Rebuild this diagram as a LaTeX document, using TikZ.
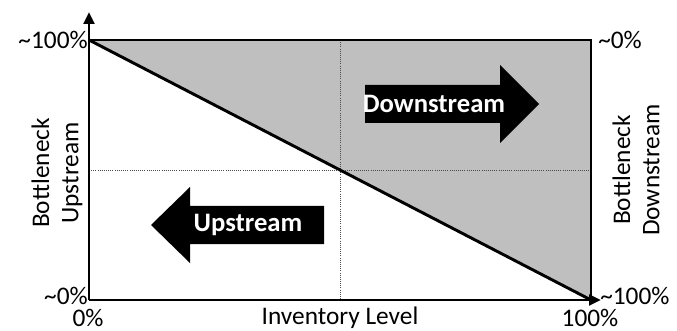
\documentclass[tikz,border=0pt]{standalone}
\usepackage{fontspec}
\setmainfont{Carlito}
\usetikzlibrary{arrows.meta}
\definecolor{bandgray}{RGB}{191,191,191}
\newcommand{\apx}{\textasciitilde}

\begin{document}
\begin{tikzpicture}[x=0.75pt,y=-0.75pt]
\tikzstyle{every node}=[font=\fontsize{19}{22}\selectfont, inner sep=0pt]
\tikzstyle{axis}=[line width=2.2pt]
\tikzstyle{guide}=[densely dotted, line width=0.6pt, black!70]
\tikzstyle{bigarrow}=[fill=black]
\tikzstyle{arrowtext}=[text=white, font=\fontsize{20}{22}\selectfont\bfseries]
\useasboundingbox (0,0) rectangle (677,331);
% corners of the plot area
\coordinate (o) at (89,300);
\coordinate (tl) at (89,40);
\coordinate (tr) at (591,40);
\coordinate (br) at (591,300);
\coordinate (ytip) at (89,12);
\coordinate (xtip) at (601,300);
\coordinate (mt) at (340,40);
\coordinate (mb) at (340,300);
\coordinate (ml) at (89,170);
\coordinate (mr) at (591,170);
% grey triangle above the diagonal
\fill[bandgray] (tl) -- (tr) -- (br) -- cycle;
\draw[guide] (mt) -- (mb);
\draw[guide] (ml) -- (mr);
% the two block arrows
\fill[bigarrow] (365,85) -- (500,85) -- (500,65) -- (539,104) -- (500,143)
  -- (500,123) -- (365,123) -- cycle;
\node[arrowtext] (down) at (434,104) {Downstream};
\fill[bigarrow] (324,206) -- (190,206) -- (190,187) -- (151,225) -- (190,263)
  -- (190,244) -- (324,244) -- cycle;
\node[arrowtext] (up) at (248,225) {Upstream};
% frame, diagonal and axes
\draw[axis] (tl) -- (tr) -- (br);
\draw[axis] (tl) -- (br);
\draw[axis,-{Triangle[length=9pt,width=8pt]}] (o) -- (ytip);
\draw[axis,-{Triangle[length=9pt,width=8pt]}] (o) -- (xtip);
% tick labels
\node[anchor=east] (ytop) at (88,40) {\apx100\%};
\node[anchor=east] (ybot) at (88,296) {\apx0\%};
\node[anchor=west] (rtop) at (598,40) {\apx0\%};
\node[anchor=west] (rbot) at (600,296) {\apx100\%};
\node (xmin) at (88,318) {0\%};
\node (xmax) at (590,318) {100\%};
\node (xlab) at (340,318) {Inventory Level};
\node[rotate=90, align=center] (ylab) at (57,173) {Bottleneck\\Upstream};
\node[rotate=90, align=center] (rlab) at (636,170) {Bottleneck\\Downstream};
\end{tikzpicture}
\end{document}
